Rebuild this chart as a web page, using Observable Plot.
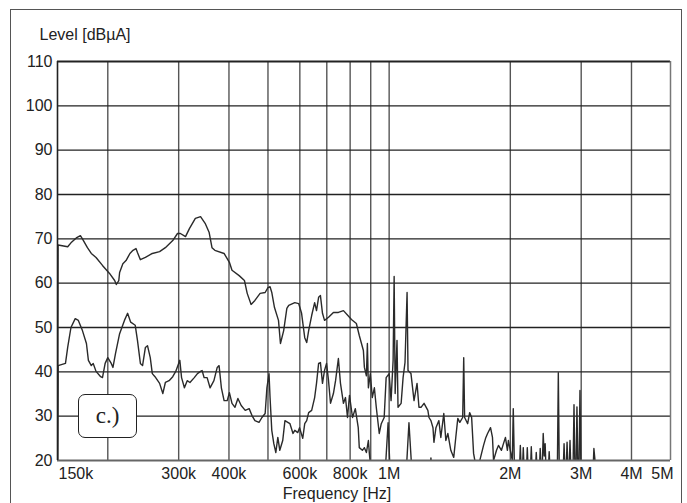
<!DOCTYPE html>
<html><head><meta charset="utf-8">
<script src="https://cdn.jsdelivr.net/npm/d3@7"></script>
<script src="https://cdn.jsdelivr.net/npm/@observablehq/plot@0.6"></script>
<style>
html,body{margin:0;padding:0;background:#fff;width:687px;height:503px;overflow:hidden}
#wrap{position:relative;width:687px;height:503px;font-family:"Liberation Sans",Arial,sans-serif}
#wrap svg{position:absolute;left:0;top:0}
#frame{position:absolute;left:10px;top:9px;width:672px;height:520px;border:1.5px solid #555;box-sizing:border-box}
#tag{position:absolute;left:78px;top:394px;width:59px;height:44px;border:1.5px solid #222;border-radius:7px;background:#fff;box-sizing:border-box;font-family:"Liberation Serif","DejaVu Serif",serif;font-size:23px;display:flex;align-items:center;justify-content:center;color:#222}
</style></head>
<body>
<div id="wrap"><div id="frame"></div></div>
<script>
// Frequencies in kHz, levels in dBµA
const upperFreq = [150,150.5,159,162,167,171,173,178,182,187,194,202,208,210,213,214,218,222,227,231,235,237,241,248,258,269,278,290,298,303,312,319,330,340,349,357,363,369,389,401,407,424,437,444,454,464,478,492,500,506,511,519,531,537,547,557,563,583,596,606,617,624,631,642,653,660,668,675,683,691,707,727,748,770,797,806,829,843,863,868,878,883,888,898,908,919,929,945,956,972,983,1000,1011,1023,1029,1035,1046,1052,1071,1083,1095,1108,1114,1133,1153,1173,1186,1200,1221,1248,1256,1270,1285,1292,1307,1329,1344,1367,1383,1399,1423,1447,1464,1481,1498,1523,1532,1540,1567,1585,1603,1621,1640,1659,1687,1716,1736,1756,1786,1806,1817,1848,1869,1901,1923,1945,1967,1978,2000,2023,2034,2046,2069,
2106,2118,2130,2142,2154,2166,2192,2204,2216,2243,2255,2268,2307,2320,2333,2360,2373,2387,2400,2414,2428,2441,2455,2484,2498,2512,2617,2632,2647,2705,2720,2735,2751,2767,2783,2798,2814,2830,2862,2879,2895,2912,2928,2945,2962,2979,2996,3208,3226,3244,3262];
const upperLevel = [10,68.6,68.2,69.1,70.2,70.7,70,68,66.7,65.8,64,62.2,60.6,59.7,60.6,62.4,64.4,65.1,66.7,67.4,67.8,66.9,65.3,65.8,66.7,67.1,68,69.6,71.2,71.2,70.5,72.3,74.6,75,73.5,71.5,68,67.4,66.7,64.7,62.9,61.7,60.6,57.7,55.2,56.1,57.7,57.9,59,59.2,57.9,54.5,51.6,46.4,49.3,54.3,55,55.6,55.4,53.2,47.7,46.6,49.3,52.7,55.6,53.8,56.8,57.2,53.2,51.6,52.3,53.4,53.4,53.8,52.3,51.8,50.9,48.2,44.8,41,39.1,46.4,36.4,39.6,34.2,36.4,32,26.1,28.3,29.7,38.7,39.6,33.5,42.6,61.5,35.1,47.1,32,32.9,38.7,42.1,57.9,40.3,39.6,33.5,37.4,32,32,32.9,31.3,29.7,29,27.4,24.1,27.4,29,25.2,30.6,24.5,26.1,22.3,20.7,25.2,29.5,28.6,29.7,43.2,29.7,28.3,30.8,29.7,21.6,19,18,20.7,23.4,25,26.1,27.4,25.2,20,22.3,23.4,22.3,23.8,25.2,22.3,24.5,22.3,20,31.7,20,17,
17,23.4,17,17,22.9,17,17,22.9,17,17,23.1,17,17,21.8,17,17,22.7,17,18,26.1,21,23.8,17,17,22,17,17,39.8,17,17,23.8,17,17,24.1,17,17,24.5,17,17,32.6,17,17,32.1,17,17,35.8,17,17,22.7,20.3,19];

const lowerFreq = [150,150.5,157,159,162,166,169,173,177,179,182,184,187,192,194,197,200,204,206,209,214,220,224,228,234,237,241,244,248,251,255,258,262,269,274,278,284,290,295,302,305,310,315,320,328,334,340,343,347,353,359,367,374,378,383,389,396,401,407,414,421,429,439,449,456,464,475,483,492,497,503,506,511,517,523,529,535,544,551,560,567,577,583,593,599,610,617,624,631,642,653,660,668,675,683,691,699,707,715,727,736,748,757,770,779,788,797,811,824,838,843,858,868,878,888,893,903,977,994,1006,1102,1120,1140,1262,1270,1278];
const lowerLevel = [10,41.4,41.9,45.5,50,52,51.6,49.3,46.4,42.6,41.4,41.9,40.1,38.9,38.7,41.9,43.2,41.9,41,44.1,48.6,51.6,53.2,51.2,50.5,47.1,41.9,41.4,45.5,45.9,43.2,39.6,38.9,37.4,35.1,37.6,38,38.9,40.1,42.6,38.7,36.4,38,37.6,38.7,39.6,40.1,40.3,38.7,38.7,36.4,38,41,41.4,36.4,33.5,33.5,35.3,32.9,32,34,32.4,31.3,31.7,30.2,29,28.6,29.7,30.6,36.4,39.6,34.2,26.8,23.8,21.8,25.2,22.3,24.5,29,28.6,28.3,26.1,26.8,26.3,27.4,25,28.3,29,30.8,31.3,34.2,37.4,41.9,42.1,37.4,40.3,41.9,38,32.9,35.1,38,43,37.4,32.9,34.2,29.7,34.7,29.7,31.7,27.4,22.9,22.3,22.9,21.8,24.5,21.6,17,17,28.5,17,17,28.5,17,17,20.6,17];

const xGrid = [200,300,400,500,600,700,800,900,1000,2000,3000,4000];
const xLabelFreq = [150,300,400,600,800,1000,2000,3000,4000,5000];
const xLabels = ["150k","300k","400k","600k","800k","1M","2M","3M","4M","5M"];
const yTicks = [20,30,40,50,60,70,80,90,100,110];

const upper = upperFreq.map((f,i)=>({f, v: upperLevel[i]}));
const lower = lowerFreq.map((f,i)=>({f, v: lowerLevel[i]}));
const labIdx = xLabels.map((_,i)=>i);
const mid = labIdx.slice(1,-1);

const chart = Plot.plot({
  width: 687, height: 503,
  marginLeft: 57, marginRight: 17, marginTop: 61, marginBottom: 43,
  style: {background: "transparent", fontFamily: "'Liberation Sans', Arial, sans-serif", fontSize: "16px", color: "#222"},
  x: {type: "log", domain: [150, 5000], axis: null},
  y: {domain: [20, 110], ticks: yTicks, tickSize: 0, tickPadding: 5, label: null},
  marks: [
    Plot.ruleX(xGrid, {stroke: "#555", strokeWidth: 1.4}),
    Plot.ruleY(yTicks.filter(v => v > 20 && v < 110), {stroke: "#222", strokeWidth: 1.3}),
    Plot.line(lower, {x: "f", y: "v", stroke: "#2a2a2a", strokeWidth: 1.4, clip: true}),
    Plot.line(upper, {x: "f", y: "v", stroke: "#2a2a2a", strokeWidth: 1.4, clip: true}),
    Plot.ruleY([110], {stroke: "#222", strokeWidth: 2}),
    Plot.ruleY([20], {stroke: "#666", strokeWidth: 1.8}),
    Plot.ruleX([150], {stroke: "#222", strokeWidth: 1.6}),
    Plot.ruleX([5000], {stroke: "#777", strokeWidth: 1.5}),
    Plot.text([labIdx[0]], {x: i => xLabelFreq[i], text: i => xLabels[i], frameAnchor: "bottom", lineAnchor: "middle", dy: 13, dx: 1, textAnchor: "start", fontSize: 16}),
    Plot.text(mid, {x: i => xLabelFreq[i], text: i => xLabels[i], frameAnchor: "bottom", lineAnchor: "middle", dy: 13, fontSize: 16}),
    Plot.text([labIdx[labIdx.length-1]], {x: i => xLabelFreq[i], text: i => xLabels[i], frameAnchor: "bottom", lineAnchor: "middle", dy: 13, dx: 3, textAnchor: "end", fontSize: 16}),
    Plot.text(["Frequency [Hz]"], {frameAnchor: "bottom", lineAnchor: "middle", dy: 33, dx: -27, fontSize: 16}),
    Plot.text(["Level [dBµA]"], {frameAnchor: "top-left", lineAnchor: "middle", dx: -18, dy: -27, textAnchor: "start", fontSize: 16})
  ]
});
const wrap = document.getElementById("wrap");
wrap.appendChild(chart);
const tag = document.createElement("div");
tag.id = "tag";
tag.textContent = "c.)";
wrap.appendChild(tag);
</script>
</body></html>
